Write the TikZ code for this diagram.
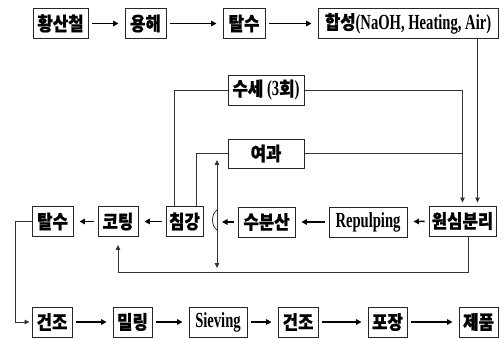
\documentclass[tikz,border=0pt]{standalone}
\usepackage{fontspec}
\usetikzlibrary{arrows.meta}
\newfontfamily\kr{Noto Sans CJK KR}[FakeStretch=0.88,FakeBold=0.8]
\newfontfamily\lat{Liberation Serif}[UprightFont=* Bold,FakeStretch=0.68]
\newcommand\latb{\lat\fontsize{21.5}{21.5}\selectfont}
\begin{document}
\begin{tikzpicture}[x=1pt,y=-1pt,
 box/.style={draw=black!85, line width=0.9pt, inner sep=0pt, minimum height=30pt,
   font=\fontsize{19}{20}\selectfont\kr\bfseries},
 flow/.style={line width=1.4pt, -{Triangle[length=5.5pt,width=5.5pt]}, shorten <=4pt, shorten >=6pt},
 conn/.style={line width=0.8pt, draw=black!80},
 tip/.style={-{Triangle[length=5pt,width=4.5pt]}},
 dtip/.style={{Triangle[length=5pt,width=4.5pt]}-{Triangle[length=5pt,width=4.5pt]}}
]
\useasboundingbox (0,0) rectangle (503,339);
% top row
\node[box,minimum width=55pt] (hwang) at (60.5,23.5) {황산철};
\node[box,minimum width=41pt] (yong) at (145.5,23.5) {용해};
\node[box,minimum width=42pt] (tal1) at (244,23.5) {탈수};
\node[box,minimum width=180pt] (hap) at (408,23.5) {합성{\latb(NaOH, Heating, Air)}};
% middle boxes
\node[box,minimum width=76pt] (suse) at (266,90) {수세 {\latb(3}회{\latb)}};
\node[box,minimum width=76pt,minimum height=29pt] (yeo) at (266,153.5) {여과};
% middle row
\node[box,minimum width=41pt] (tal2) at (52.5,221.5) {탈수};
\node[box,minimum width=40pt] (coat) at (118,221.5) {코팅};
\node[box,minimum width=37pt] (chim) at (184.5,221.5) {침강};
\node[box,minimum width=57pt] (subun) at (266.5,222) {수분산};
\node[box,minimum width=78pt] (repulp) at (368,222) {\latb Repulping};
\node[box,minimum width=67pt] (won) at (462.5,221) {원심분리};
% bottom row
\node[box,minimum width=40pt] (gun1) at (52,322) {건조};
\node[box,minimum width=39pt] (mil) at (132.5,322) {밀링};
\node[box,minimum width=58pt] (siev) at (218,322) {\latb Sieving};
\node[box,minimum width=40pt] (gun2) at (298,322) {건조};
\node[box,minimum width=39pt] (pojang) at (387.5,322) {포장};
\node[box,minimum width=39pt] (jepum) at (478.5,322) {제품};
% flow arrows
\draw[flow] (hwang) -- (yong);
\draw[flow] (yong) -- (tal1);
\draw[flow] (tal1) -- (hap);
\draw[flow] (won) -- (repulp);
\draw[flow] (repulp) -- (subun);
\coordinate (hopR) at (222,222);
\draw[flow,shorten >=0pt] (subun) -- (hopR);
\draw[flow] (chim) -- (coat);
\draw[flow] (coat) -- (tal2);
\draw[flow] (gun1) -- (mil);
\draw[flow] (mil) -- (siev);
\draw[flow] (siev) -- (gun2);
\draw[flow] (gun2) -- (pojang);
\draw[flow] (pojang) -- (jepum);
% connectors
\draw[conn,tip,shorten >=3pt] ([xshift=-21pt]hap.south east) -- ([xshift=15pt]won.north);
\draw[conn] (suse.west) -| ([xshift=-10.5pt]chim.north);
\draw[conn,tip,shorten >=3pt] (suse.east) -| (won.north);
\draw[conn] (yeo.west) -| ([xshift=11.5pt]chim.north);
\draw[conn] (yeo.east) -- (yeo.east -| won.north);
\coordinate (vt) at (217,160);
\coordinate (vb) at (217,268);
\draw[conn,dtip] (vt) -- (vb);
\draw[conn] (217,210) .. controls (211,214) and (211,226) .. (217,230);
\coordinate (fb) at (118,272);
\draw[conn,tip,shorten >=8pt] ([xshift=5.5pt]won.south) |- (fb) -- (coat.south);
\draw[conn,tip,shorten >=2pt] (tal2.west) -- ++(-16,0) |- (gun1.west);
\end{tikzpicture}
\end{document}
